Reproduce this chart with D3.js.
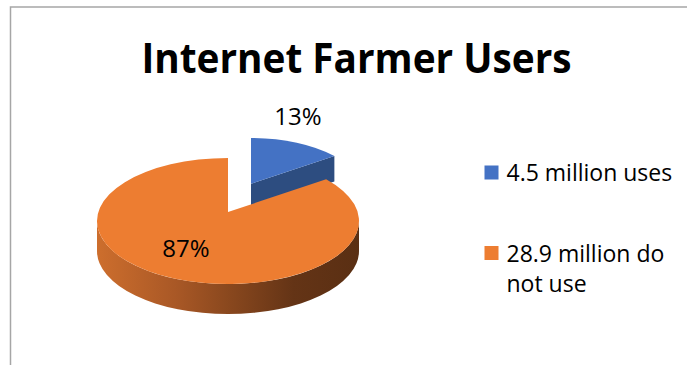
<!DOCTYPE html>
<html>
<head>
<meta charset="utf-8">
<script src="https://cdn.jsdelivr.net/npm/d3@7"></script>
<style>
  body { margin: 0; background: #fff; }
  text { font-family: "Open Sans", "Noto Sans", sans-serif; fill: #000; }
</style>
</head>
<body>
<svg width="687" height="365"></svg>
<script>
var title = "Internet Farmer Users";
var categories = ["4.5 million uses", "28.9 million do not use"];
var values = [4.5, 28.9];
var percentLabels = ["13%", "87%"];
var colors = ["#4472C4", "#ED7D31"];
var sideColors = ["#2d4d80", "url(#orangeSide)"];

var svg = d3.select("svg");

// chart frame
svg.append("rect")
    .attr("x", 10.5).attr("y", 7)
    .attr("width", 700).attr("height", 400)
    .attr("fill", "none")
    .attr("stroke", "#a6a6a6")
    .attr("stroke-width", 1.5);

svg.append("text")
    .attr("x", 141.5).attr("y", 72.5)
    .attr("font-size", 42)
    .attr("font-weight", "bold")
    .attr("textLength", 430)
    .attr("lengthAdjust", "spacingAndGlyphs")
    .text(title);

// side gradient for the orange rim
var defs = svg.append("defs");
var grad = defs.append("linearGradient")
    .attr("id", "orangeSide")
    .attr("gradientUnits", "userSpaceOnUse")
    .attr("x1", 97).attr("x2", 359).attr("y1", 0).attr("y2", 0);
[[0, "#cd6e2d"], [0.3, "#a95826"], [0.5, "#8a481e"], [0.75, "#643416"], [1, "#5a2f13"]].forEach(function(s) {
    grad.append("stop").attr("offset", s[0]).attr("stop-color", s[1]);
});

// 3d pie geometry (exploded slice is drawn a bit smaller: perspective)
var base = {cx: 228, cy: 221, rx: 131, ry: 63, depth: 30, k: 9};
var explode = [{dx: 23, dy: -29.5, s: 0.85}, {dx: 0, dy: 0, s: 1}];
var labelPos = [[298, 117], [186, 249]];

var pie = d3.pie().sort(null).startAngle(0).endAngle(2 * Math.PI);
var arcs = pie(values);

function geom(i) {
    var e = explode[i];
    return {
        cx: base.cx + e.dx, cy: base.cy + e.dy,
        rx: base.rx * e.s, ry: base.ry * e.s,
        depth: base.depth * e.s, k: base.k * e.s
    };
}

function pt(g, a, dz) {
    return [g.cx + g.rx * Math.sin(a), g.cy - g.ry * Math.cos(a) + (dz || 0)];
}

function topPath(g, a0, a1) {
    var p0 = pt(g, a0), p1 = pt(g, a1);
    var large = (a1 - a0) > Math.PI ? 1 : 0;
    return "M" + g.cx + "," + (g.cy - g.k) +
        "L" + p0 + "A" + g.rx + "," + g.ry + " 0 " + large + " 1 " + p1 + "Z";
}

function rimPath(g, a0, a1) {
    var s = Math.max(a0, Math.PI / 2), e = Math.min(a1, 3 * Math.PI / 2);
    if (e <= s) return null;
    var p0 = pt(g, s), p1 = pt(g, e);
    var q0 = pt(g, s, g.depth), q1 = pt(g, e, g.depth);
    return "M" + p0 + "A" + g.rx + "," + g.ry + " 0 0 1 " + p1 +
        "L" + q1 + "A" + g.rx + "," + g.ry + " 0 0 0 " + q0 + "Z";
}

function facePath(g, a) {
    var p = pt(g, a), q = pt(g, a, g.depth);
    return "M" + g.cx + "," + (g.cy - g.k) + "L" + p + "L" + q +
        "L" + g.cx + "," + (g.cy - g.k + g.depth) + "Z";
}

var pieG = svg.append("g");
arcs.forEach(function(d, i) {
    var g = geom(i);
    var rim = rimPath(g, d.startAngle, d.endAngle);
    if (rim) pieG.append("path").attr("d", rim).attr("fill", sideColors[i]);
    if (Math.sin(d.startAngle) < -1e-6)
        pieG.append("path").attr("d", facePath(g, d.startAngle)).attr("fill", sideColors[i]);
    if (Math.sin(d.endAngle) > 1e-6)
        pieG.append("path").attr("d", facePath(g, d.endAngle)).attr("fill", sideColors[i]);
    pieG.append("path").attr("d", topPath(g, d.startAngle, d.endAngle)).attr("fill", colors[i]);
});

svg.selectAll(".pct")
    .data(percentLabels)
    .enter().append("text")
    .attr("class", "pct")
    .attr("x", function(d, i) { return labelPos[i][0]; })
    .attr("y", function(d, i) { return labelPos[i][1]; })
    .attr("dy", "0.35em")
    .attr("text-anchor", "middle")
    .attr("font-size", 24)
    .text(function(d) { return d; });

// legend
var legendLines = [["4.5 million uses"], ["28.9 million do", "not use"]];
var legendY = [181, 261.5];
var leg = svg.selectAll(".leg")
    .data(categories)
    .enter().append("g")
    .attr("class", "leg");

leg.append("rect")
    .attr("x", 484.5)
    .attr("y", function(d, i) { return legendY[i] - 15.5; })
    .attr("width", 14).attr("height", 14)
    .attr("fill", function(d, i) { return colors[i]; });

leg.append("text")
    .attr("x", 506.5)
    .attr("y", function(d, i) { return legendY[i]; })
    .attr("font-size", 23)
    .each(function(d, i) {
        var t = d3.select(this);
        legendLines[i].forEach(function(line, j) {
            t.append("tspan")
                .attr("x", 506.5)
                .attr("dy", j === 0 ? 0 : 30.7)
                .text(line);
        });
    });
</script>
</body>
</html>
